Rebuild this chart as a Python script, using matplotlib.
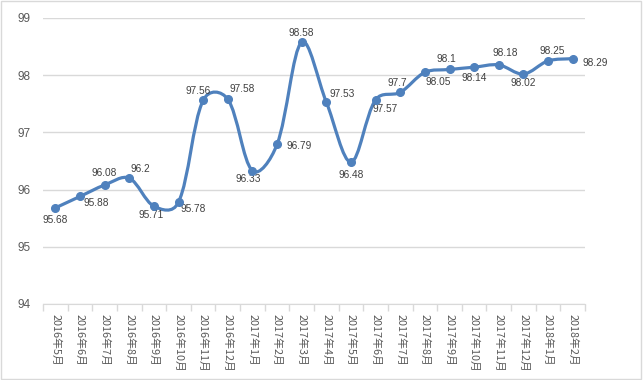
import matplotlib
matplotlib.use("Agg")
from matplotlib import pyplot as plt
from matplotlib.path import Path
from matplotlib.patches import PathPatch, Rectangle
import numpy as np

months = ["2016年5月", "2016年6月", "2016年7月", "2016年8月", "2016年9月", "2016年10月",
          "2016年11月", "2016年12月", "2017年1月", "2017年2月", "2017年3月", "2017年4月",
          "2017年5月", "2017年6月", "2017年7月", "2017年8月", "2017年9月", "2017年10月",
          "2017年11月", "2017年12月", "2018年1月", "2018年2月"]
values = [95.68, 95.88, 96.08, 96.2, 95.71, 95.78, 97.56, 97.58, 96.33, 96.79, 98.58,
          97.53, 96.48, 97.57, 97.7, 98.05, 98.1, 98.14, 98.18, 98.02, 98.25, 98.29]
# label offsets in pixels (dx, dy)
label_offsets = [(0, -12), (16, -7), (0, 12), (11, 9), (-3, -9), (15, -7), (-5, 9), (14, 10),
                 (-4, -8), (22, -2), (0, 9), (16, 8), (0, -13), (10, -9), (-3, 9), (13, -10),
                 (-3, 10), (0, -11), (6, 12), (0, -9), (4, 10), (23, -4)]

blue = "#4F81BD"
grey_txt = "#595959"
grid_col = "#D9D9D9"

fig = plt.figure(figsize=(6.43, 3.80), dpi=100)
fig.patches.append(Rectangle((0.001, 0.003), 0.996, 0.994, transform=fig.transFigure,
                             fill=False, edgecolor="#D9D9D9", linewidth=1))
ax = fig.add_axes([43 / 643, 76 / 380, 542 / 643, 286 / 380])
ax.set_xlim(-0.5, len(values) - 0.5)
ax.set_ylim(94, 99)

x = np.arange(len(values))
y = np.array(values)

# smoothed line, Excel-like bezier computed in pixel space
sx = 542 / len(values)   # px per category
sy = 286 / 5             # px per unit
P = np.column_stack([x * sx, y * sy])
n = len(P)


def weight(a, b):
    w = b / (a + b) if a + b > 0 else 0.5
    return 0.5 * 0.5 + 0.5 * w


verts = [tuple(P[0])]
codes = [Path.MOVETO]
for i in range(n - 1):
    p0 = P[max(i - 1, 0)]
    p1 = P[i]
    p2 = P[i + 1]
    p3 = P[min(i + 2, n - 1)]
    d01 = np.linalg.norm(p1 - p0)
    d12 = np.linalg.norm(p2 - p1)
    d23 = np.linalg.norm(p3 - p2)
    c1 = p1 + (p2 - p0) * weight(d01, d12) / 3
    c2 = p2 - (p3 - p1) * weight(d23, d12) / 3
    verts += [tuple(c1), tuple(c2), tuple(p2)]
    codes += [Path.CURVE4] * 3
verts = [(vx / sx, vy / sy) for vx, vy in verts]
ax.add_patch(PathPatch(Path(verts, codes), fill=False, edgecolor=blue, linewidth=2.3,
                       capstyle="round", joinstyle="round", zorder=3))
ax.plot(x, y, linestyle="none", marker="o", markersize=5.5, color=blue, zorder=4)

for xi, yi, (dx, dy) in zip(x, y, label_offsets):
    ax.annotate(f"{yi:g}", (xi, yi), xytext=(dx, dy), textcoords="offset pixels",
                ha="center", va="center", fontsize=7.3, color="#404040",
                family="Liberation Sans")

ax.set_yticks([94, 95, 96, 97, 98, 99])
ax.yaxis.grid(True, color=grid_col, linewidth=1)
ax.set_axisbelow(True)
for s in ["left", "right", "top"]:
    ax.spines[s].set_visible(False)
ax.spines["bottom"].set_color(grid_col)
ax.tick_params(axis="y", length=0, pad=9, labelsize=8.5, labelcolor=grey_txt)
for lab in ax.get_yticklabels():
    lab.set_family("Liberation Sans")

ax.set_xticks(x)
ax.set_xticklabels(months, rotation=270, fontsize=7.8, color=grey_txt,
                   family=["Noto Sans CJK SC", "DejaVu Sans"], va="top", ha="center")
ax.tick_params(axis="x", which="major", length=0, pad=7)
ax.set_xticks(np.arange(-0.5, n, 1), minor=True)
ax.tick_params(axis="x", which="minor", length=5, color=grid_col, width=1)

fig.savefig("out.png", dpi=100)
